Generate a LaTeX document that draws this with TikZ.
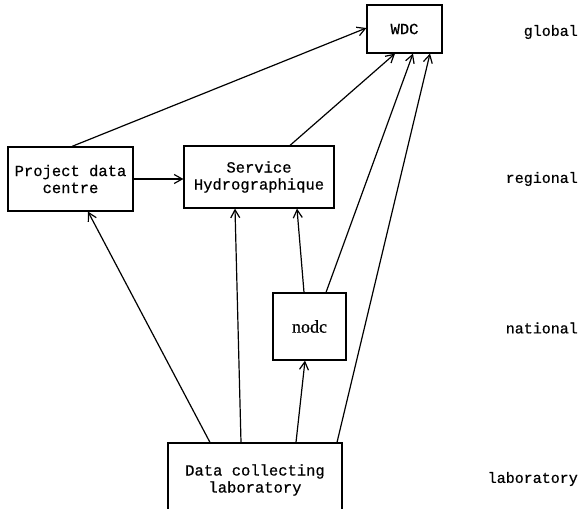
\documentclass[tikz,border=0pt]{standalone}
\usepackage{fontspec}
\setmonofont{Liberation Mono}[FakeBold=0.6]
\newfontfamily\nodcfont{Liberation Serif}[FakeBold=0.6]
\usetikzlibrary{arrows.meta}
\begin{document}
\begin{tikzpicture}[x=1pt,y=-1pt,
  box/.style={draw,line width=1.2pt,inner sep=0pt,align=center,font=\ttfamily\fontsize{15.5}{17}\selectfont},
  lvl/.style={anchor=east,inner sep=0pt,font=\ttfamily\fontsize{15}{17}\selectfont},
  arr/.style={line width=1.2pt,-{Straight Barb[length=8pt,width=9pt,line width=1.2pt]}}]
\useasboundingbox (0,0) rectangle (582,509);
\node[box,minimum width=75pt,minimum height=48pt] (wdc) at (404.5,29) {WDC};
\node[box,minimum width=125pt,minimum height=64pt] (pdc) at (70.5,179) {Project data\\centre};
\node[box,minimum width=150pt,minimum height=62pt] (sh) at (259,177) {Service\\Hydrographique};
\node[box,minimum width=73pt,minimum height=67pt,font=\nodcfont\fontsize{18}{20}\selectfont] (nodc) at (309.5,326.5) {nodc};
\node[box,minimum width=174pt,minimum height=78pt] (lab) at (255,482) {};
\node[align=center,inner sep=0pt,font=\ttfamily\fontsize{15.5}{17}\selectfont] (labtext) at (255,480) {Data collecting\\laboratory};
\node[lvl] (lglobal) at (578,32) {global};
\node[lvl] (lregional) at (578,179) {regional};
\node[lvl] (lnational) at (578,328) {national};
\node[lvl] (llab) at (578,479) {laboratory};
\draw[arr] ([xshift=1.5pt]pdc.north) -- ([yshift=1pt]wdc.west);
\draw[arr] (pdc.east) -- (pdc.east -| sh.west);
\draw[arr] ([xshift=31pt]sh.north) -- ([xshift=-9.5pt]wdc.south);
\draw[arr] ([xshift=16.5pt]nodc.north) -- ([xshift=8.5pt]wdc.south);
\draw[arr] ([xshift=-5.5pt]nodc.north) -- ([xshift=38pt]sh.south);
\draw[arr] ([xshift=-45pt]lab.north) -- ([xshift=17.5pt]pdc.south);
\draw[arr] ([xshift=-14pt]lab.north) -- ([xshift=-24pt]sh.south);
\draw[arr] ([xshift=41pt]lab.north) -- ([xshift=-4.5pt]nodc.south);
\draw[arr] ([xshift=82pt]lab.north) -- ([xshift=25.5pt]wdc.south);
\end{tikzpicture}
\end{document}
